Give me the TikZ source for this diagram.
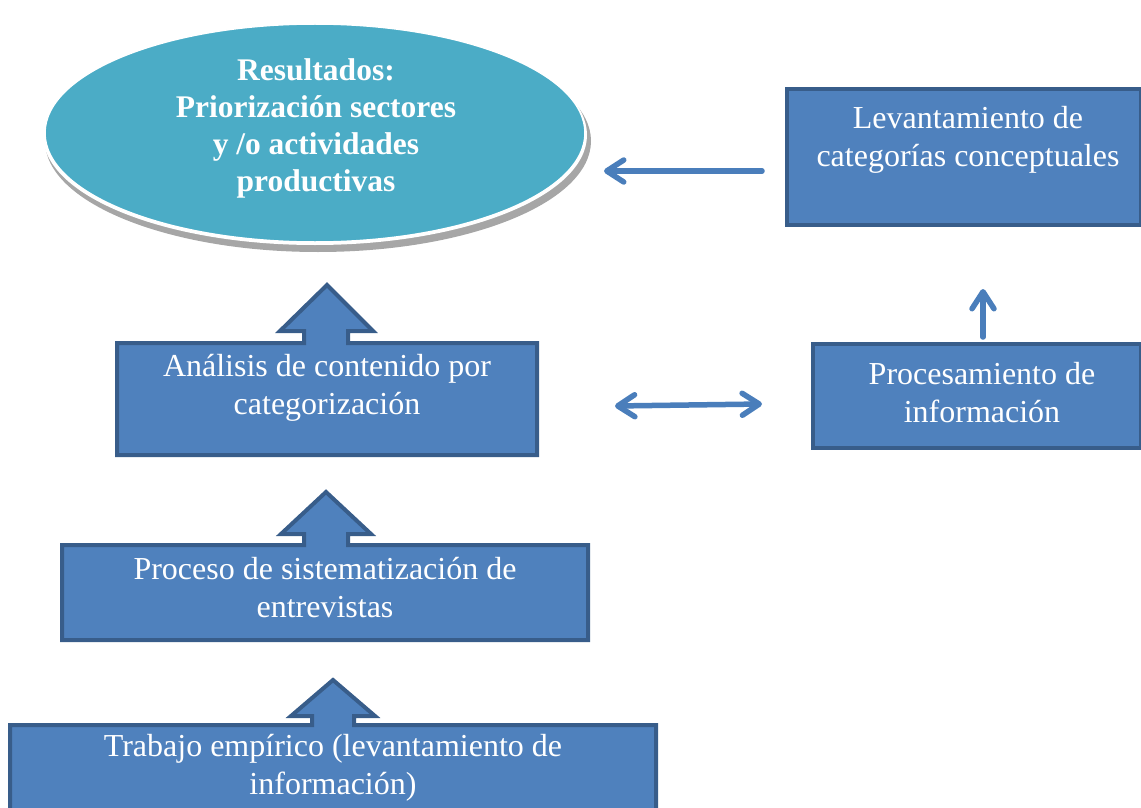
\documentclass[tikz,border=0pt]{standalone}
\usepackage{fontspec}
\setmainfont{Liberation Serif}
\usetikzlibrary{arrows.meta,shapes.geometric}
\definecolor{boxfill}{HTML}{4F81BD}
\definecolor{boxline}{HTML}{385D8A}
\definecolor{ellfill}{HTML}{4BACC6}
\definecolor{shadowgray}{HTML}{A6A6A6}
\definecolor{arrowblue}{HTML}{4A7EBB}
\tikzset{
  boxshape/.style={fill=boxfill, draw=boxline, line width=4pt, line join=miter},
  boxtext/.style={text=white, align=center, font=\fontsize{32}{38}\selectfont, inner sep=0pt},
  conn/.style={draw=arrowblue, line width=5.5pt, line cap=round, line join=round},
  barb/.style={-{Straight Barb[length=17pt,width=22pt,round]}},
  dbarb/.style={{Straight Barb[length=17pt,width=22pt,round]}-{Straight Barb[length=17pt,width=22pt,round]}},
}
\begin{document}
\begin{tikzpicture}[x=1pt,y=-1pt]
\useasboundingbox (0,0) rectangle (1141,808);
% ellipse with shadow
\fill[shadowgray] (318,141) ellipse [x radius=273, y radius=111];
\fill[white] (315,135) ellipse [x radius=272, y radius=110];
\node[ellipse, fill=ellfill, draw=white, line width=1.5pt, minimum width=540, minimum height=218, inner sep=0pt] (ell) at (315,133) {};
\node[text=white, align=center, font=\bfseries\fontsize{31.5}{37}\selectfont, inner sep=0pt] (elltxt) at (316,128)
  {Resultados:\\Priorización sectores\\y /o actividades\\productivas};
% right boxes
\node[boxshape, minimum width=354, minimum height=136, inner sep=0pt] (lev) at (964,157) {};
\node[boxtext] (levtxt) at (968,140) {Levantamiento de\\categorías conceptuales};
\node[boxshape, minimum width=328, minimum height=104, inner sep=0pt] (proc) at (977,396) {};
\node[boxtext] (proctxt) at (982,393) {Procesamiento de\\información};
% block boxes with arrow tab
\draw[boxshape] (117,455) -- (117,343) -- (304,343) -- (304,331) -- (280,331) -- (327,285)
  -- (373,331) -- (348,331) -- (348,343) -- (537,343) -- (537,455) -- cycle;
\node[boxtext] (anal) at (327,388) {Análisis de contenido por\\categorización};
\draw[boxshape] (62,640) -- (62,545) -- (304,545) -- (304,534) -- (281,534) -- (326,492)
  -- (371,534) -- (348,534) -- (348,545) -- (588,545) -- (588,640) -- cycle;
\node[boxtext] (sist) at (325,588) {Proceso de sistematización de\\entrevistas};
\draw[boxshape] (10,812) -- (10,725) -- (312,725) -- (312,716) -- (291,716) -- (333,680)
  -- (375,716) -- (354,716) -- (354,725) -- (656,725) -- (656,812) -- cycle;
\node[boxtext] (trab) at (333,768) {Trabajo empírico (levantamiento de\\información)};
% connectors
\coordinate (c1s) at ([xshift=-23pt]lev.west |- 0,171);
\coordinate (c1e) at (604,171);
\draw[conn, barb] (c1s) -- (c1e);
\coordinate (c2s) at (983,337);
\coordinate (c2e) at (983,289);
\draw[conn, barb] (c2s) -- (c2e);
\coordinate (c3l) at (615,406);
\coordinate (c3r) at (762,404);
\draw[conn, dbarb] (c3l) -- (c3r);
\end{tikzpicture}
\end{document}
